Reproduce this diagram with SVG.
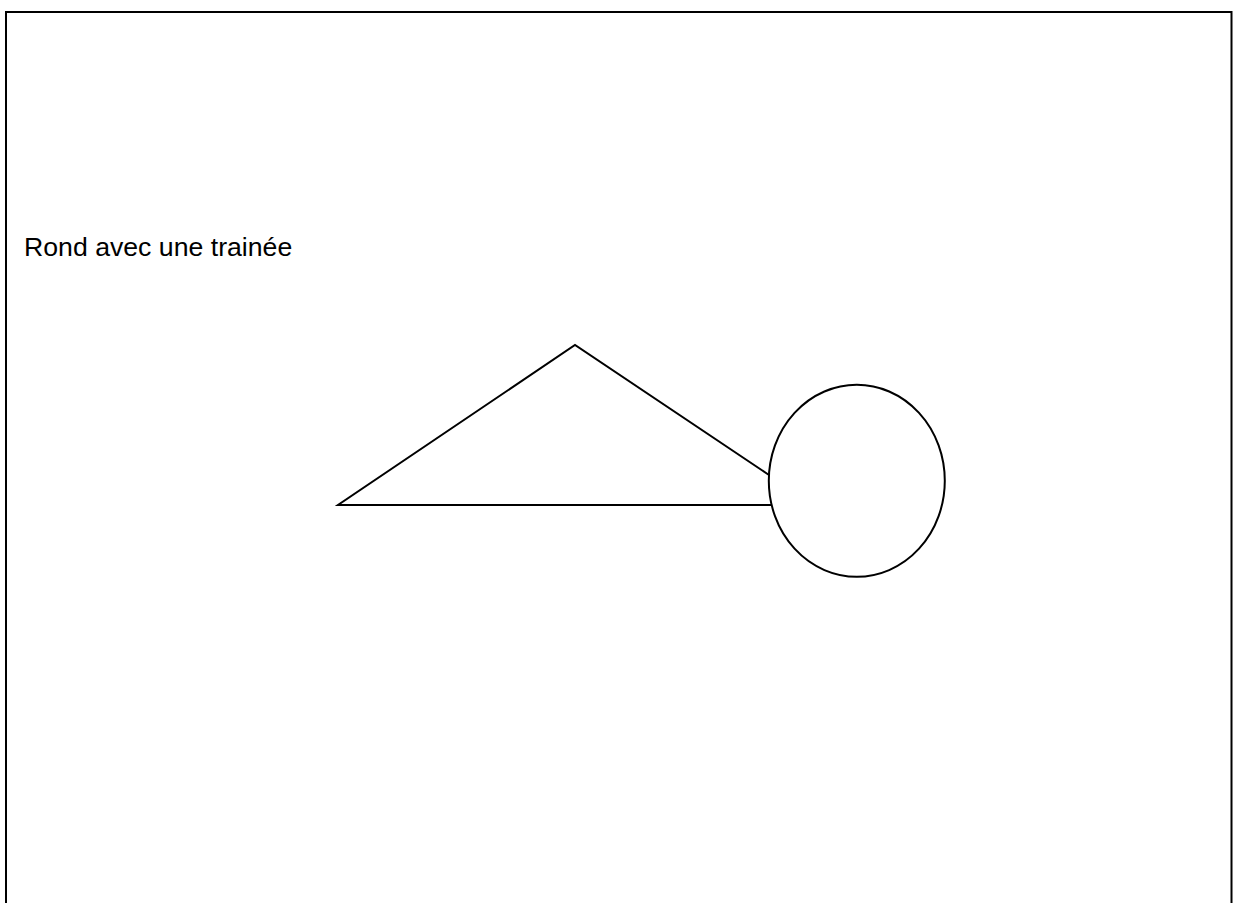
<svg xmlns="http://www.w3.org/2000/svg" width="1241" height="903" viewBox="0 0 1241 903">
<style>
.ln{fill:none;stroke:#000;stroke-width:2}
.lbl{font-family:"Liberation Sans",Arial,sans-serif;font-size:26.67px;fill:#000}
</style>
<rect width="1241" height="903" fill="#fff"/>
<rect id="frame" class="ln" x="6" y="12" width="1225.5" height="920"/>
<g id="label"><text class="lbl" x="24" y="256">Rond avec une trainée</text></g>
<g id="trail"><path class="ln" stroke-width="1.6" d="M769,475 L575,345 L338,505 L772,505"/></g>
<g id="circle"><ellipse class="ln" cx="856.8" cy="480.8" rx="88" ry="96"/></g>
</svg>
